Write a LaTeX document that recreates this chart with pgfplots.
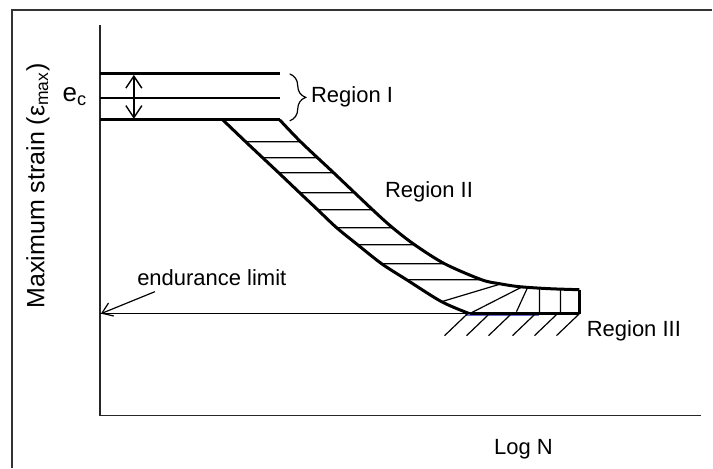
\documentclass[border=0pt]{standalone}
\usepackage{pgfplots}
\pgfplotsset{compat=1.18}
\usepackage{fontspec}
\setmainfont{Liberation Sans}
\usetikzlibrary{arrows.meta,decorations.pathreplacing}

\begin{document}
\begin{tikzpicture}
\begin{axis}[
    scale only axis,
    width=301pt, height=195.5pt,
    xmin=100, xmax=702, ymin=52, ymax=443,
    axis lines=left,
    axis line style={-, line width=0.7pt, black!85},
    xtick=\empty, ytick=\empty,
    clip=false,
    unbounded coords=jump,
    font=\fontsize{11}{13}\selectfont,
]
% picture extent and outer frame (only top and left edge show)
\path (axis cs:0,0) rectangle (axis cs:713,468);
\addplot[black!80, line width=0.7pt] coordinates {(12,0) (12,458) (713,458)};

% region I: band of e_c
\addplot[black, line width=1.5pt] coordinates {(100,394) (280,394)};
\addplot[black, line width=0.7pt] coordinates {(100,370) (280,370)};
\addplot[black, line width=1.5pt] coordinates {(100,348) (280,348)};
\addplot[black, line width=0.7pt, {Straight Barb[length=6pt,width=8pt]}-{Straight Barb[length=6pt,width=8pt]}]
    coordinates {(134,393) (134,349)};
\draw[black, line width=0.6pt, decorate, decoration={brace, amplitude=8pt}]
    (axis cs:290,394) -- (axis cs:290,347);

% region II: the two bounding curves
\addplot[black, line width=1.5pt, smooth, tension=0.5, line join=round] coordinates {
    (280,348) (301,326) (334,295) (373,258) (393,240) (415,223)
    (445,204) (482,188) (500,184) (520,181) (550,179) (580,178)};
\addplot[black, line width=1.5pt, smooth, tension=0.5, line join=round] coordinates {
    (223,348) (246,326) (263,310) (279,295) (300,275) (318,258)
    (337,240) (358,223) (382,204) (407,188) (442,166) (470,154)};

% hatching between the curves
\addplot[black, line width=0.6pt] coordinates {
    (246,326) (301,326) (nan,nan)
    (263,310) (318,310) (nan,nan)
    (279,295) (334,295) (nan,nan)
    (300,275) (355,275) (nan,nan)
    (318,258) (373,258) (nan,nan)
    (337,240) (393,240) (nan,nan)
    (358,223) (415,223) (nan,nan)
    (382,204) (445,204) (nan,nan)
    (407,188) (482,188) (nan,nan)
    (442,166) (502,184) (nan,nan)
    (470,154) (523,181) (nan,nan)
    (517,156) (528,180) (nan,nan)
    (540,154) (540,179) (nan,nan)
    (561,154) (561,179)};

% endurance limit and region III
\addplot[black, line width=0.7pt] coordinates {(100,154) (470,154)};
\addplot[black!30!blue!60!white, line width=0.8pt] coordinates {(465,152.5) (540,152.5)};
\addplot[black, line width=1.5pt] coordinates {(470,154) (580,154)};
\addplot[black, line width=1.5pt] coordinates {(580,154) (580,178)};
\addplot[black, line width=0.6pt] coordinates {
    (445,132) (468,154) (nan,nan)
    (467,132) (490,154) (nan,nan)
    (489,132) (512,154) (nan,nan)
    (513,132) (536,154) (nan,nan)
    (535,132) (558,154) (nan,nan)
    (557,132) (580,154)};
\addplot[black, line width=0.6pt, -{Straight Barb[length=5pt,width=7pt]}]
    coordinates {(155,176) (101,154)};

% labels
\node at (axis cs:38,282) [rotate=90, font=\fontsize{12.5}{14}\selectfont] {Maximum strain (ε\textsubscript{max})};
\node at (axis cs:75,371) [font=\fontsize{13}{15}\selectfont] {e\textsubscript{c}};
\node[anchor=west, inner sep=0pt] at (axis cs:311,371) {Region I};
\node[anchor=west, inner sep=0pt] at (axis cs:385,276) {Region II};
\node[anchor=west, inner sep=0pt] at (axis cs:587,137) {Region III};
\node[anchor=west, inner sep=0pt] at (axis cs:137,190) {endurance limit};
\node at (axis cs:524,18) {Log N};
\end{axis}
\end{tikzpicture}
\end{document}
